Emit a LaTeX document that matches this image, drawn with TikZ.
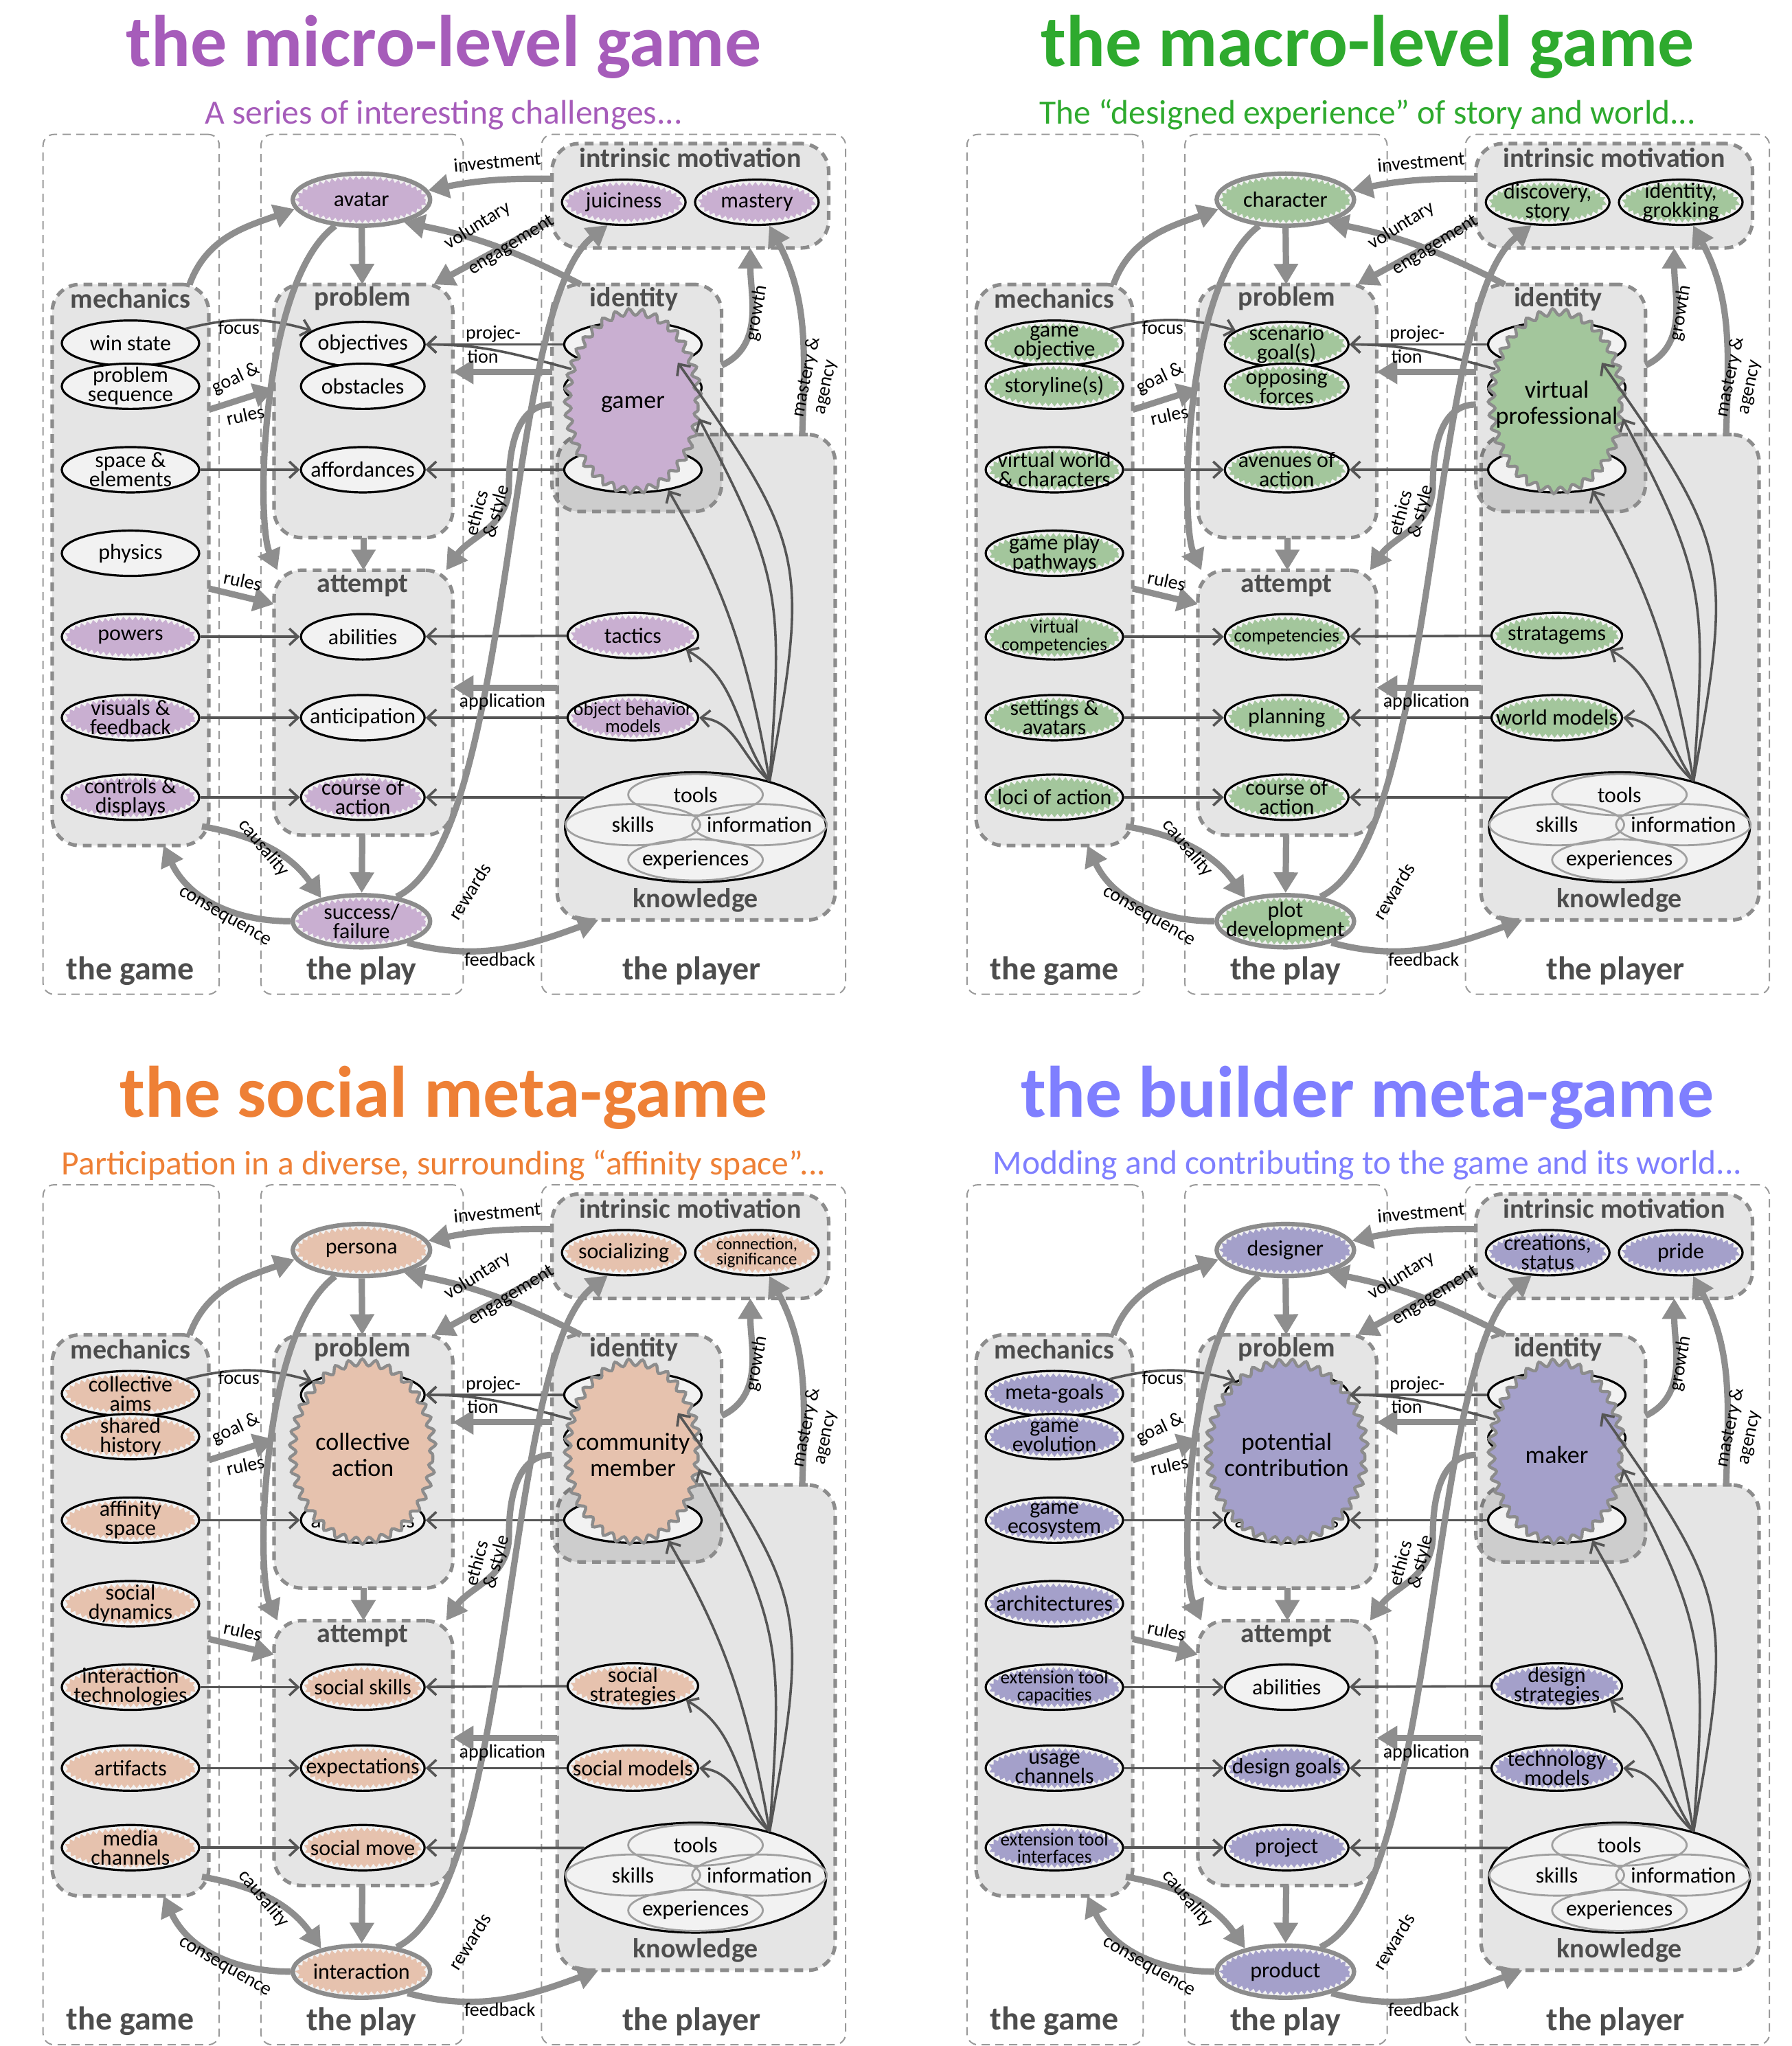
\documentclass[tikz,border=0pt]{standalone}
\usepackage{fontspec}
\setmainfont{Carlito}
\usetikzlibrary{arrows.meta,calc,decorations.pathmorphing,positioning,shapes.geometric}

\definecolor{boxline}{HTML}{8C8C8C}
\definecolor{colline}{HTML}{9A9A9A}
\definecolor{nodefill}{HTML}{F2F2F2}
\definecolor{partline}{HTML}{A0A0A0}
\definecolor{thinline}{HTML}{555555}
\definecolor{labelgray}{HTML}{4D4D4D}
\definecolor{arrowgray}{HTML}{8E8E8E}
\definecolor{microtint}{HTML}{C9AFD1}
\definecolor{microhead}{HTML}{A65CBA}
\definecolor{macrotint}{HTML}{A3C69C}
\definecolor{macrohead}{HTML}{2EAA2E}
\definecolor{socialtint}{HTML}{E6C2AE}
\definecolor{socialhead}{HTML}{EE8036}
\definecolor{buildtint}{HTML}{A4A0CA}
\definecolor{buildhead}{HTML}{7F7FFF}

\newcommand\titlefont{\fontsize{26.5}{30}\selectfont\bfseries}
\newcommand\subfont{\fontsize{12.4}{14}\selectfont}
\newcommand\colfont{\fontsize{12}{14}\selectfont\bfseries}
\newcommand\grpfont{\fontsize{10}{12}\selectfont\bfseries}
\newcommand\nodefont{\fontsize{8}{7}\selectfont}
\newcommand\smallfont{\fontsize{6.8}{6.3}\selectfont}
\newcommand\edgefont{\fontsize{7}{7}\selectfont}
\newcommand\bigfont{\fontsize{9}{9.5}\selectfont}

\tikzset{every picture/.style={line width=0.75pt}}
\tikzset{
  colbox/.style={draw=colline, dash pattern=on 3pt off 2pt, line width=0.5pt, rounded corners=4pt},
  grpbox/.style={draw=boxline, fill=black, fill opacity=0.1, line width=1.3pt, dash pattern=on 3.2pt off 2.2pt, rounded corners=10pt},
  collabel/.style={font=\colfont, text=labelgray, inner sep=1pt},
  grplabel/.style={font=\grpfont, text=labelgray, inner sep=1pt},
  plain/.style={ellipse, draw=black, line width=0.8pt, fill=nodefill, minimum width=50pt, minimum height=16.5pt, inner xsep=-30pt, inner ysep=-15pt, align=center, font=\nodefont},
  narrow/.style={minimum width=45pt},
  smalltext/.style={font=\smallfont},
  tinted/.style={plain, path picture={
      \fill[tint, decorate, decoration={zigzag, segment length=2.2pt, amplitude=0.7pt}]
        let \p1=($(path picture bounding box.north east)-(path picture bounding box.south west)$) in
        (path picture bounding box.center) ellipse [x radius={0.5*\x1-1.6pt}, y radius={0.5*\y1-1.6pt}];}},
  av/.style={tinted, draw=boxline, line width=1.6pt, minimum height=19pt},
  bigzig/.style={ellipse, draw=boxline, fill=tint, line width=1.1pt, decorate, decoration={snake, segment length=4.8pt, amplitude=1.2pt}, minimum width=47.5pt, minimum height=65pt, inner xsep=-30pt, inner ysep=-20pt, align=center, font=\bigfont},
  part/.style={ellipse, draw=partline, line width=0.7pt, minimum width=49pt, minimum height=15pt, inner xsep=-30pt, inner ysep=-15pt, font=\nodefont},
  heavy/.style={draw=arrowgray, line width=2.3pt, -{Triangle[length=7.5pt,width=8.5pt]}},
  fine/.style={draw=thinline, line width=0.9pt, -{Straight Barb[length=3.2pt,width=6pt]}},
  elabel/.style={font=\edgefont, inner sep=0.5pt},
}

% box from two corners, in picture units
\newcommand\grp[6]{\node[#1, inner sep=0pt, outer sep=0pt, minimum width={(#4-#2)*0.475pt}, minimum height={(#5-#3)*0.475pt}] (#6) at ({(#2+#4)/2},{(#3+#5)/2}) {};}

\newcommand\panelframe[3]{%
  \node[font=\titlefont, text=#3] (title) at (340,36) {#1};
  \node[font=\subfont, text=#3] (subtitle) at (340,88) {#2};
  % columns
  \grp{colbox}{33}{103}{168}{762}{colgame}
  \grp{colbox}{200}{103}{355}{762}{colplay}
  \grp{colbox}{415}{103}{648}{762}{colplayer}
  \node[collabel] (lbgame) at (100,744) {the game};
  \node[collabel] (lbplay) at (277,744) {the play};
  \node[collabel] (lbplayer) at (530,744) {the player};
  % groups
  \grp{grpbox}{427}{333}{640}{705}{know}
  \grp{grpbox}{423}{218}{553}{392}{ident}
  \grp{grpbox}{40}{218}{160}{648}{mech}
  \grp{grpbox}{210}{218}{347}{412}{prob}
  \grp{grpbox}{210}{437}{347}{640}{att}
  \grp{grpbox}{423}{110}{635}{190}{intr}
  \node[grplabel] (lbmech) at (100,229) {mechanics};
  \node[grplabel] (lbprob) at (278,229) {problem};
  \node[grplabel] (lbatt) at (278,449) {attempt};
  \node[grplabel] (lbintr) at (529,121) {intrinsic motivation};
  \node[grplabel] (lbident) at (486,229) {identity};
  \node[grplabel] (lbknow) at (533,690) {knowledge};
  % identity layers
  \node[plain] (d1) at (485,264) {};
  \node[plain] (d2) at (485,297) {};
  \node[plain] (d3) at (485,360) {};
  % knowledge
  \node[plain, minimum width=95pt, minimum height=40pt] (kb) at (533,634) {};
  \node[part] (kt) at (533,609) {tools};
  \node[part] (ks) at (485,632) {skills};
  \node[part] (ki) at (582,632) {information};
  \node[part] (ke) at (533,659) {experiences};
}

\newcommand\panellinks{%
  % thin links
  \draw[fine] (m1) to[bend left=15] (p1);
  \draw[fine] (m3) -- (p3);
  \draw[fine] (m5) -- (a1);
  \draw[fine] (m6) -- (a2);
  \draw[fine] (m7) -- (a3);
  \draw[fine] (d1) -- (p1);
  \draw[fine] (big.150) to[out=165, in=0] (p1.east);
  \draw[fine] (d3) -- (p3);
  \draw[fine] (k1) -- (a1);
  \draw[fine] (k2) -- (a2);
  \draw[fine] (kb.165) -- (a3);
  \coordinate (kfan) at (kb.32);
  \draw[fine] (kfan) to[out=125, in=-30] (k1.-15);
  \draw[fine] (kfan) to[out=140, in=-5] (k2.east);
  \draw[fine] (kfan) to[out=100, in=-60] (d3.-30);
  \draw[fine] (kfan) to[out=86, in=-62, looseness=1.25] (big.-12);
  \draw[fine] (kfan) to[out=80, in=-55, looseness=1.35] (d1.-22);
  % heavy links
  \draw[heavy] (intr.173) to[bend right=6] (avatar.8);
  \draw[heavy] (intr.190) -- (prob.61);
  \draw[heavy] ([xshift=10.5pt]ident.north west) to[bend right=8] (avatar.-28);
  \draw[heavy] ([xshift=-7pt]mech.north east) to[out=70, in=200] (avatar.188);
  \draw[heavy] (avatar) -- (prob);
  \draw[heavy] (prob) -- (att);
  \draw[heavy] (att) -- (outcome);
  \draw[heavy] (avatar.225) .. controls (200,215) and (196,400) .. (att.123);
  \draw[heavy] (outcome.35) .. controls (395,645) and (385,235) .. (i1.235);
  \draw[heavy] (outcome.-25) to[out=-15, in=200] ([xshift=15pt]know.south west);
  \draw[heavy] ([xshift=-2.5pt,yshift=7pt]mech.south east) to[out=-10, in=125] (outcome.150);
  \draw[heavy] (outcome.west) to[out=180, in=-65] ([xshift=12pt]mech.south);
  \draw[heavy] (mech.east |- 0,314) -- (prob.west |- 0,298);
  \draw[heavy] (mech.east |- 0,451) -- (att.west |- 0,463);
  \draw[heavy] (ident.west |- 0,285) -- (prob.east |- 0,285);
  \draw[heavy] (ident.west |- 0,310) to[out=180, in=90] (390,372) to[out=-90, in=55] (att.58);
  \draw[heavy] (know.west |- 0,527) -- (att.east |- 0,527);
  \draw[heavy] (ident.east |- 0,280) to[out=25, in=-90] (intr.south -| 575,0);
  \draw[heavy] ([xshift=-12pt]know.north east) to[out=88, in=-62] (i2.-62);
  % link labels
  \node[elabel, rotate=5] (lbinvest) at (381,124) {investment};
  \node[elabel, rotate=32] (lbvol) at (366,173) {voluntary};
  \node[elabel, rotate=32] (lbeng) at (392,188) {engagement};
  \node[elabel] (lbfocus) at (183,251) {focus};
  \node[elabel, rotate=25] (lbgoal) at (181,290) {goal \&};
  \node[elabel, rotate=12] (lbrules) at (188,318) {rules};
  \node[elabel, rotate=-12] (lbrulesb) at (186,445) {rules};
  \node[elabel] (lbproj) at (378,256) {projec-};
  \node[elabel] (lbtion) at (370,273) {tion};
  \node[elabel, rotate=75] (lbeth) at (365,393) {ethics};
  \node[elabel, rotate=75] (lbsty) at (381,392) {\& style};
  \node[elabel] (lbapp) at (385,538) {application};
  \node[elabel, rotate=80] (lbgrowth) at (580,240) {growth};
  \node[elabel, rotate=78] (lbmast) at (618,289) {mastery \&};
  \node[elabel, rotate=78] (lbagency) at (634,297) {agency};
  \node[elabel, rotate=58] (lbrew) at (360,683) {rewards};
  \node[elabel] (lbfeed) at (383,735) {feedback};
  \node[elabel, rotate=-50] (lbcaus) at (202,650) {causality};
  \node[elabel, rotate=-30] (lbcons) at (172,703) {consequence};
}

\begin{document}
\begin{tikzpicture}[x=0.475pt,y=-0.475pt]
\useasboundingbox (0,0) rectangle (1373,1568);
\fill[white] (0,0) rectangle (1373,1568);

%% the micro-level game
\begin{scope}
  \colorlet{tint}{microtint}
  \panelframe{the micro-level game}{A series of interesting challenges...}{microhead}
  \node[plain] (m1) at (100,263) {win state};
  \node[plain] (m2) at (100,296) {problem\\sequence};
  \node[plain] (m3) at (100,360) {space \&\\elements};
  \node[plain] (m4) at (100,424) {physics};
  \node[tinted] (m5) at (100,488) {powers};
  \node[tinted] (m6) at (100,550) {visuals \&\\feedback};
  \node[tinted] (m7) at (100,611) {controls \&\\displays};
  \node[plain, narrow] (p1) at (278,264) {objectives};
  \node[plain, narrow] (p2) at (278,296) {obstacles};
  \node[plain, narrow] (p3) at (278,360) {affordances};
  \node[plain, narrow] (a1) at (278,488) {abilities};
  \node[plain, narrow] (a2) at (278,550) {anticipation};
  \node[tinted, narrow] (a3) at (278,611) {course of\\action};
  \node[av] (avatar) at (277,153) {avatar};
  \node[av] (outcome) at (277,706) {success/\\failure};
  \node[tinted, narrow] (i1) at (478,155) {juiciness};
  \node[tinted, narrow] (i2) at (580,155) {mastery};
  \node[bigzig] (big) at (485,310) {gamer};
  \node[tinted, minimum width=47.5pt] (k1) at (485,487) {tactics};
  \node[tinted, minimum width=47.5pt, smalltext] (k2) at (485,550) {object behavior\\models};
  \panellinks
\end{scope}

%% the macro-level game
\begin{scope}[shift={(708,0)}]
  \colorlet{tint}{macrotint}
  \panelframe{the macro-level game}{The “designed experience” of story and world...}{macrohead}
  \node[tinted] (m1) at (100,263) {game\\objective};
  \node[tinted] (m2) at (100,296) {storyline(s)};
  \node[tinted] (m3) at (100,360) {virtual world\\\& characters};
  \node[tinted] (m4) at (100,424) {game play\\pathways};
  \node[tinted, smalltext] (m5) at (100,488) {virtual\\competencies};
  \node[tinted] (m6) at (100,550) {settings \&\\avatars};
  \node[tinted] (m7) at (100,611) {loci of action};
  \node[tinted, narrow] (p1) at (278,264) {scenario\\goal(s)};
  \node[tinted, narrow] (p2) at (278,296) {opposing\\forces};
  \node[tinted, narrow] (p3) at (278,360) {avenues of\\action};
  \node[tinted, narrow, smalltext] (a1) at (278,488) {competencies};
  \node[tinted, narrow] (a2) at (278,550) {planning};
  \node[tinted, narrow] (a3) at (278,611) {course of\\action};
  \node[av] (avatar) at (277,153) {character};
  \node[av] (outcome) at (277,706) {plot\\development};
  \node[tinted, narrow] (i1) at (478,155) {discovery,\\story};
  \node[tinted, narrow] (i2) at (580,155) {identity,\\grokking};
  \node[bigzig] (big) at (485,310) {virtual\\professional};
  \node[tinted, minimum width=47.5pt] (k1) at (485,487) {stratagems};
  \node[tinted, minimum width=47.5pt] (k2) at (485,550) {world models};
  \panellinks
\end{scope}

%% the social meta-game
\begin{scope}[shift={(0,805)}]
  \colorlet{tint}{socialtint}
  \panelframe{the social meta-game}{Participation in a diverse, surrounding “affinity space”...}{socialhead}
  \node[tinted] (m1) at (100,263) {collective\\aims};
  \node[tinted] (m2) at (100,296) {shared\\history};
  \node[tinted] (m3) at (100,360) {affinity\\space};
  \node[tinted] (m4) at (100,424) {social\\dynamics};
  \node[tinted] (m5) at (100,488) {interaction\\technologies};
  \node[tinted] (m6) at (100,550) {artifacts};
  \node[tinted] (m7) at (100,611) {media\\channels};
  \node[plain, narrow] (p1) at (278,264) {objectives};
  \node[plain, narrow] (p3) at (278,360) {affordances};
  \node[bigzig, minimum width=51pt] (pbig) at (278,310) {collective\\action};
  \node[tinted, narrow] (a1) at (278,488) {social skills};
  \node[tinted, narrow] (a2) at (278,550) {expectations};
  \node[tinted, narrow] (a3) at (278,611) {social move};
  \node[av] (avatar) at (277,153) {persona};
  \node[av] (outcome) at (277,706) {interaction};
  \node[tinted, narrow] (i1) at (478,155) {socializing};
  \node[tinted, narrow, font=\fontsize{6.2}{5.6}\selectfont] (i2) at (580,155) {connection,\\significance};
  \node[bigzig] (big) at (485,310) {community\\member};
  \node[tinted, minimum width=47.5pt] (k1) at (485,487) {social\\strategies};
  \node[tinted, minimum width=47.5pt] (k2) at (485,550) {social models};
  \panellinks
\end{scope}

%% the builder meta-game
\begin{scope}[shift={(708,805)}]
  \colorlet{tint}{buildtint}
  \panelframe{the builder meta-game}{Modding and contributing to the game and its world...}{buildhead}
  \node[tinted] (m1) at (100,263) {meta-goals};
  \node[tinted] (m2) at (100,296) {game\\evolution};
  \node[tinted] (m3) at (100,360) {game\\ecosystem};
  \node[tinted] (m4) at (100,424) {architectures};
  \node[tinted, smalltext] (m5) at (100,488) {extension tool\\capacities};
  \node[tinted] (m6) at (100,550) {usage\\channels};
  \node[tinted, smalltext] (m7) at (100,611) {extension tool\\interfaces};
  \node[plain, narrow] (p1) at (278,264) {objectives};
  \node[plain, narrow] (p3) at (278,360) {affordances};
  \node[bigzig, minimum width=57pt] (pbig) at (278,310) {potential\\contribution};
  \node[plain, narrow] (a1) at (278,488) {abilities};
  \node[tinted, narrow] (a2) at (278,550) {design goals};
  \node[tinted, narrow] (a3) at (278,611) {project};
  \node[av] (avatar) at (277,153) {designer};
  \node[av] (outcome) at (277,706) {product};
  \node[tinted, narrow] (i1) at (478,155) {creations,\\status};
  \node[tinted, narrow] (i2) at (580,155) {pride};
  \node[bigzig] (big) at (485,310) {maker};
  \node[tinted, minimum width=47.5pt] (k1) at (485,487) {design\\strategies};
  \node[tinted, minimum width=47.5pt] (k2) at (485,550) {technology\\models};
  \panellinks
\end{scope}
\end{tikzpicture}
\end{document}
